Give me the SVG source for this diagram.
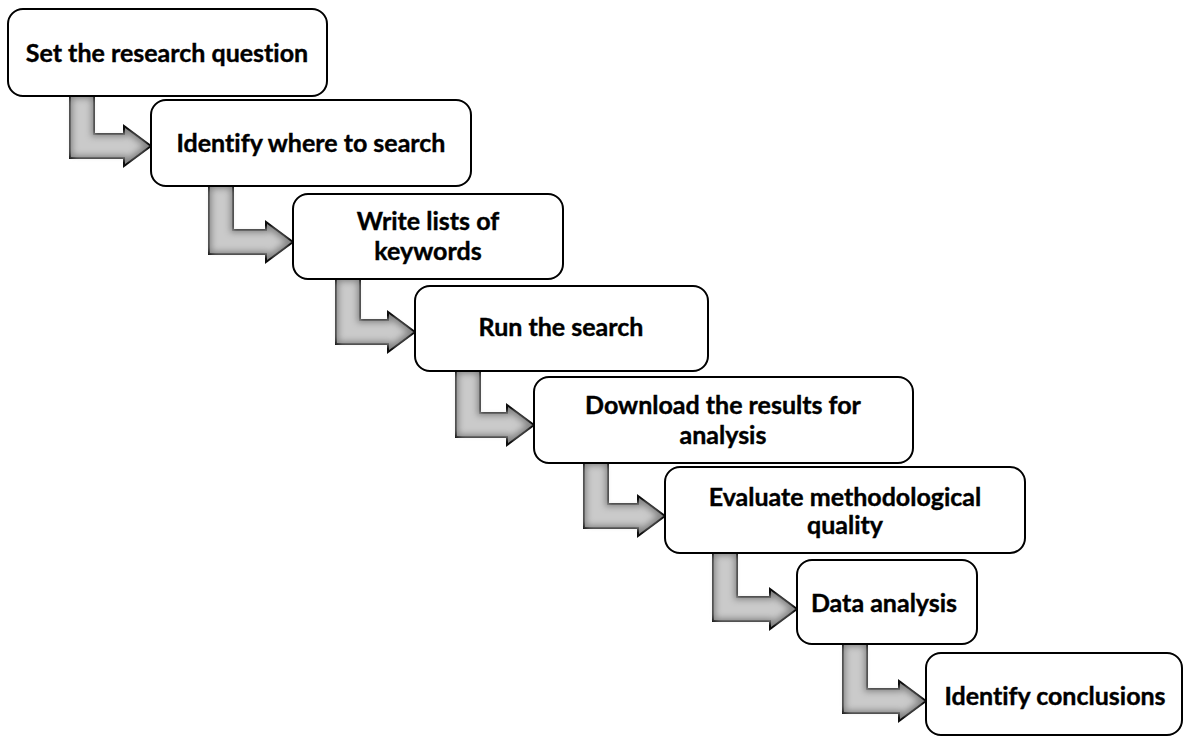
<svg xmlns="http://www.w3.org/2000/svg" xmlns:xlink="http://www.w3.org/1999/xlink" width="1185" height="736" viewBox="0 0 1185 736">
  <style>
    .box { fill: #ffffff; stroke: #000000; stroke-width: 2; }
    .lbl { font-family: Lato, "Open Sans", "Liberation Sans", sans-serif; font-weight: bold; font-size: 25px; fill: #000000; text-anchor: middle; stroke: #000000; stroke-width: 0.4; font-variant-ligatures: none; }
    .arrow-fill { fill: #858585; filter: url(#bevel); }
    .arrow-line { fill: none; stroke: #111111; stroke-width: 2; stroke-linejoin: miter; }
  </style>
  <defs>
    <!-- soft lighter core inside each bent arrow -->
    <filter id="bevel" x="-10%" y="-10%" width="120%" height="120%">
      <feMorphology in="SourceAlpha" operator="erode" radius="4" result="core"/>
      <feGaussianBlur in="core" stdDeviation="3" result="soft"/>
      <feFlood flood-color="#cacaca"/>
      <feComposite in2="soft" operator="in" result="glow"/>
      <feMerge>
        <feMergeNode in="SourceGraphic"/>
        <feMergeNode in="glow"/>
      </feMerge>
    </filter>
  </defs>

  <rect width="1185" height="736" fill="#ffffff"/>

  <!-- bent arrows: stem down from the box above, bar right, head touching the next box -->
  <g id="connectors">
    <g id="arrow1">
      <path id="a1" class="arrow-fill" d="M70,96 H94 V134 H124 V126 L151,146 L124,166 V158 H70 Z"/>
      <use xlink:href="#a1" class="arrow-line" style="filter:none"/>
    </g>
    <g id="arrow2">
      <path id="a2" class="arrow-fill" d="M209,186 H233 V230 H266 V222 L293,242 L266,262 V254 H209 Z"/>
      <use xlink:href="#a2" class="arrow-line" style="filter:none"/>
    </g>
    <g id="arrow3">
      <path id="a3" class="arrow-fill" d="M336,279 H360 V320 H388 V312 L415,332 L388,352 V344 H336 Z"/>
      <use xlink:href="#a3" class="arrow-line" style="filter:none"/>
    </g>
    <g id="arrow4">
      <path id="a4" class="arrow-fill" d="M456,371 H480 V413 H507 V405 L534,425 L507,445 V437 H456 Z"/>
      <use xlink:href="#a4" class="arrow-line" style="filter:none"/>
    </g>
    <g id="arrow5">
      <path id="a5" class="arrow-fill" d="M584,463 H608 V504 H638 V496 L665,516 L638,536 V528 H584 Z"/>
      <use xlink:href="#a5" class="arrow-line" style="filter:none"/>
    </g>
    <g id="arrow6">
      <path id="a6" class="arrow-fill" d="M713,553 H737 V597 H770 V589 L797,609 L770,629 V621 H713 Z"/>
      <use xlink:href="#a6" class="arrow-line" style="filter:none"/>
    </g>
    <g id="arrow7">
      <path id="a7" class="arrow-fill" d="M843,644 H867 V689 H899 V681 L926,701 L899,721 V713 H843 Z"/>
      <use xlink:href="#a7" class="arrow-line" style="filter:none"/>
    </g>
  </g>

  <g id="step1">
    <rect class="box" x="8" y="9" width="319" height="87" rx="15"/>
    <text class="lbl" x="167" y="62">Set the research question</text>
  </g>
  <g id="step2">
    <rect class="box" x="151" y="100" width="320" height="86" rx="15"/>
    <text class="lbl" x="311" y="152">Identify where to search</text>
  </g>
  <g id="step3">
    <rect class="box" x="293" y="194" width="270" height="85" rx="15"/>
    <text class="lbl" x="428" y="230">Write lists of</text>
    <text class="lbl" x="428" y="260">keywords</text>
  </g>
  <g id="step4">
    <rect class="box" x="415" y="286" width="293" height="85" rx="15"/>
    <text class="lbl" x="561" y="336">Run the search</text>
  </g>
  <g id="step5">
    <rect class="box" x="534" y="377" width="379" height="86" rx="15"/>
    <text class="lbl" x="723" y="414">Download the results for</text>
    <text class="lbl" x="723" y="444">analysis</text>
  </g>
  <g id="step6">
    <rect class="box" x="665" y="467" width="360" height="86" rx="15"/>
    <text class="lbl" x="845" y="506">Evaluate methodological</text>
    <text class="lbl" x="845" y="534">quality</text>
  </g>
  <g id="step7">
    <rect class="box" x="797" y="560" width="180" height="84" rx="15"/>
    <text class="lbl" x="884" y="612">Data analysis</text>
  </g>
  <g id="step8">
    <rect class="box" x="926" y="653" width="256" height="82" rx="15"/>
    <text class="lbl" x="1055" y="705">Identify conclusions</text>
  </g>
</svg>
